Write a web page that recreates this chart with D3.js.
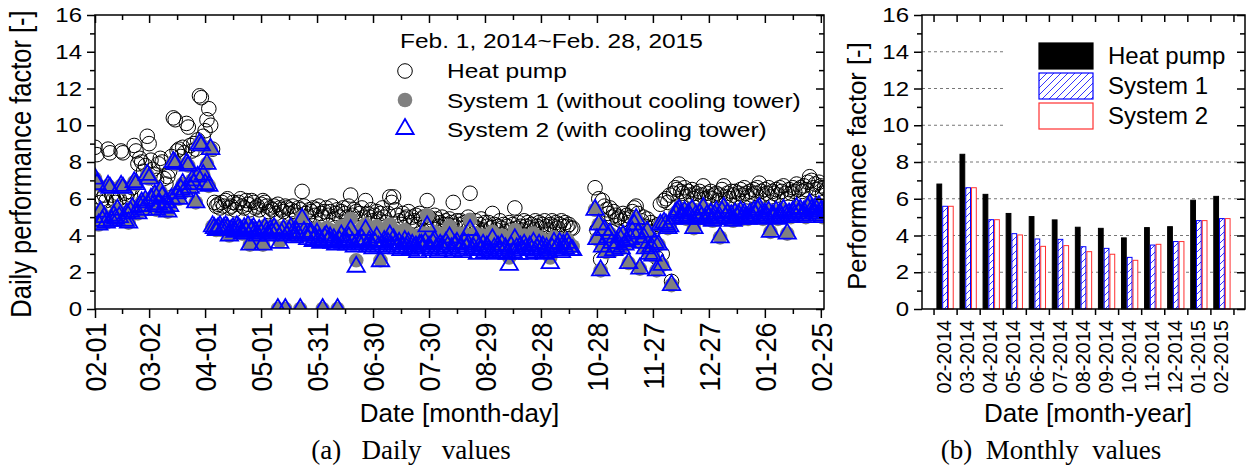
<!DOCTYPE html>
<html>
<head>
<meta charset="utf-8">
<script src="https://cdn.jsdelivr.net/npm/d3@7"></script>
<style>
  body { margin: 0; background: #fff; }
  svg { display: block; font-family: 'Liberation Sans', Arial, sans-serif; }
  .axis path { display: none; }
  .axis line { stroke: #000; stroke-width: 1.5; }
  .axis text { fill: #000; font-family: 'Liberation Sans', Arial, sans-serif; }
</style>
</head>
<body>
<svg width="1250" height="466"></svg>
<script>
// daily performance factors, one row per week (Sat..Fri), first day Feb 1 2014
var heatPump = [
  8.8, 8.4, 6.1, 5.8, 6.0, 6.2, 5.9,
  8.7, 8.5, 6.2, 6.0, 5.8, 6.3, 6.0,
  8.6, 8.5, 6.3, 6.1, 6.4, 6.2, 6.6,
  8.9, 8.6, 7.9, 8.2, 8.0, 7.5, 7.8,
  9.4, 9.0, 8.1, 7.6, 7.3, 7.0, 7.9,
  8.2, 8.0, 7.1, 6.8, 7.2, 7.5, 8.3,
  10.4, 10.3, 8.6, 8.7, 8.3, 8.8, 8.5,
  10.1, 9.9, 8.9, 8.6, 9.0, 8.7, 9.2,
  11.6, 11.5, 9.4, 9.7, 10.3, 10.9, 10.0,
  8.7, 5.8, 5.6, 5.7, 5.5, 5.8, 5.6,
  5.9, 6.0, 5.5, 5.6, 5.8, 5.4, 5.7,
  5.8, 6.0, 5.6, 5.5, 5.9, 5.7, 5.4,
  5.9, 5.8, 5.5, 5.6, 5.4, 5.7, 5.9,
  5.8, 5.6, 5.3, 5.5, 5.4, 5.6, 5.2,
  5.7, 5.5, 5.4, 5.3, 5.6, 5.5, 5.2,
  5.4, 5.6, 5.3, 5.1, 5.5, 5.4, 6.4,
  5.6, 5.2, 5.0, 5.4, 5.3, 5.5, 5.1,
  5.4, 5.6, 5.2, 5.0, 5.3, 5.5, 5.1,
  5.3, 5.6, 4.9, 5.2, 5.4, 5.0, 5.3,
  5.5, 5.2, 5.0, 5.6, 6.2, 5.1, 5.4,
  5.3, 4.9, 5.2, 5.5, 5.0, 5.9, 5.2,
  5.0, 5.4, 4.8, 5.1, 5.3, 4.9, 5.2,
  5.5, 5.0, 4.7, 5.2, 6.1, 5.8, 6.1,
  5.4, 5.1, 4.8, 4.6, 5.2, 4.9, 5.0,
  5.3, 4.7, 5.0, 4.8, 5.1, 4.6, 5.2,
  4.9, 5.0, 4.7, 5.9, 5.0, 4.6, 4.8,
  5.1, 4.9, 4.5, 4.7, 5.0, 4.6, 4.8,
  4.6, 4.9, 4.7, 5.8, 4.5, 4.8, 4.6,
  4.8, 4.4, 4.7, 4.5, 5.0, 6.3, 4.6,
  4.5, 4.8, 4.4, 4.6, 4.9, 4.3, 4.7,
  4.5, 4.7, 4.4, 5.2, 4.6, 4.3, 4.5,
  4.8, 4.4, 4.6, 4.2, 4.5, 4.7, 4.3,
  4.6, 5.5, 4.4, 4.7, 4.5, 4.3, 4.8,
  4.5, 4.7, 4.4, 4.6, 4.3, 4.8, 4.5,
  4.7, 4.4, 4.6, 4.8, 4.5, 4.3, 4.6,
  4.8, 4.5, 4.7, 4.4, 4.6, 4.8, 4.5,
  4.7, 4.5, 4.6, 4.4, 4.4, null, null,
  null, null, null, null, null, null, null,
  null, null, 6.6, 4.3, 6.0, 2.7, 5.9,
  5.6, 5.4, 5.2, 5.5, 5.0, 5.3, 5.1,
  4.9, 5.0, 4.8, 5.2, 4.9, 5.1, 4.7,
  5.0, 5.3, 5.5, 5.6, 5.2, 4.6, 4.8,
  5.0, 4.5, 4.9, 4.4, 4.7, 4.2, 4.5,
  2.8, 4.6, 5.7, 3.0, 5.9, 6.0, 5.8,
  6.2, 1.5, 6.3, 6.6, 6.5, 6.8, 6.4,
  6.3, 6.6, 6.1, 6.4, 6.2, 6.5, 6.0,
  6.3, 6.1, 6.4, 6.2, 6.7, 6.0, 6.3,
  6.1, 6.4, 6.0, 6.2, 6.3, 5.9, 6.2,
  6.5, 6.7, 6.1, 6.3, 6.0, 6.4, 6.2,
  6.4, 6.1, 6.3, 6.5, 6.2, 6.6, 6.3,
  6.1, 6.4, 6.2, 6.5, 6.3, 6.6, 6.85,
  6.4, 6.2, 6.5, 6.3, 6.6, 6.1, 6.4,
  6.3, 6.5, 6.2, 6.6, 6.4, 6.7, 6.3,
  6.0, 6.5, 6.3, 6.6, 6.4, 6.8, 6.5,
  6.6, 6.4, 6.7, 6.5, 6.9, 7.2, 7.0,
  6.6, 6.8, 6.5, 6.9, 6.7, 6.3, 6.6,
  6.5
];
var system1 = [
  7.1, 6.8, 4.6, 5.3, 4.8, 5.0, 4.7,
  6.7, 6.6, 4.8, 5.1, 4.9, 5.4, 5.0,
  6.7, 6.6, 4.8, 5.2, 4.7, 5.3, 5.5,
  6.9, 6.8, 5.2, 5.6, 5.8, 5.4, 5.9,
  7.3, 7.1, 6.0, 5.6, 6.2, 5.4, 5.7,
  6.4, 6.1, 5.5, 5.8, 5.3, 5.6, 6.0,
  8.0, 7.9, 6.3, 6.0, 6.5, 6.8, 6.4,
  7.9, 7.8, 6.6, 7.0, 6.8, 5.8, 7.2,
  9.0, 8.9, 7.3, 6.8, 7.9, 6.7, 8.7,
  4.5, 4.4, 4.3, 4.4, 4.5, 4.3, 4.4,
  4.5, 4.4, 4.0, 4.3, 4.4, 4.2, 4.5,
  4.4, 4.3, 4.1, 4.4, 4.2, 4.5, 3.5,
  4.3, 4.4, 4.2, 4.0, 4.3, 4.1, 3.5,
  4.5, 4.3, 4.1, 4.4, 4.2, 4.5, 4.3,
  0, 3.7, 4.2, 4.4, 0, 4.1, 4.3,
  4.5, 4.2, 4.0, 4.3, 4.1, 0, 5.0,
  4.4, 4.2, 4.0, 4.3, 4.3, 3.9, 4.1,
  4.4, 4.1, 3.9, 0, 4.3, 4.4, 4.1,
  4.3, 4.0, 4.2, 3.9, 0, 4.1, 4.5,
  4.1, 4.3, 4.0, 4.4, 4.9, 4.0, 3.9,
  2.65, 4.2, 4.0, 4.4, 4.1, 4.6, 3.9,
  4.2, 4.0, 3.8, 4.1, 4.5, 3.9, 2.65,
  4.0, 4.2, 3.8, 4.1, 4.6, 3.9, 4.3,
  4.0, 3.8, 4.1, 3.7, 3.9, 4.3, 3.8,
  4.1, 3.7, 4.0, 3.8, 3.9, 3.6, 4.0,
  4.0, 3.8, 4.1, 5.1, 3.9, 3.7, 4.1,
  4.2, 3.8, 3.6, 4.0, 3.9, 3.7, 4.1,
  3.9, 4.5, 3.8, 3.6, 4.0, 4.1, 3.7,
  3.9, 3.6, 4.1, 3.8, 4.0, 4.85, 3.7,
  3.8, 4.1, 3.5, 3.9, 3.7, 4.0, 3.6,
  3.9, 3.7, 3.6, 4.2, 3.8, 3.5, 3.9,
  3.7, 4.0, 3.6, 3.8, 3.5, 2.8, 3.9,
  3.6, 4.3, 3.8, 3.5, 3.9, 3.7, 4.0,
  3.8, 3.5, 3.9, 3.7, 4.1, 3.6, 3.8,
  3.9, 3.6, 3.8, 3.4, 3.7, 3.5, 2.8,
  3.6, 3.9, 3.5, 3.7, 3.8, 3.4, 3.7,
  3.5, 3.8, 3.6, 3.4, 3.4, null, null,
  null, null, null, null, null, null, null,
  null, null, 5.4, 3.8, 4.6, 2.1, 3.4,
  4.3, 3.1, 3.9, 4.1, 3.6, 3.2, 3.4,
  3.6, 3.9, 3.3, 4.0, 3.5, 3.7, 2.5,
  3.8, 4.2, 4.6, 4.9, 4.1, 2.2, 3.6,
  3.9, 3.3, 4.2, 3.0, 3.4, 2.9, 3.6,
  2.1, 3.5, 4.6, 2.4, 4.7, 4.6, 4.4,
  4.5, 1.3, 4.9, 5.2, 5.3, 5.4, 5.1,
  5.0, 5.3, 4.9, 5.2, 5.0, 5.4, 4.4,
  5.1, 4.9, 5.2, 5.0, 5.5, 4.9, 5.1,
  5.0, 5.2, 4.8, 5.1, 5.3, 4.9, 3.9,
  5.3, 5.5, 5.0, 5.2, 4.9, 5.1, 4.8,
  5.2, 5.0, 5.1, 5.3, 4.9, 5.2, 5.0,
  4.9, 5.2, 5.0, 5.3, 5.1, 5.4, 5.5,
  5.1, 4.9, 5.2, 5.0, 5.3, 4.2, 5.1,
  5.0, 5.3, 4.9, 5.2, 5.0, 5.4, 5.1,
  4.1, 5.2, 5.0, 5.3, 5.1, 5.5, 5.2,
  5.4, 5.1, 5.3, 5.0, 5.5, 5.7, 5.4,
  5.2, 5.5, 5.1, 5.6, 5.3, 5.0, 5.4,
  5.3
];
var system2 = [
  7.1, 6.8, 4.6, 5.3, 4.8, 5.0, 4.7,
  6.7, 6.6, 4.8, 5.1, 4.9, 5.4, 5.0,
  6.7, 6.6, 4.8, 5.2, 4.7, 5.3, 5.5,
  6.9, 6.8, 5.2, 5.6, 5.8, 5.4, 5.9,
  7.3, 7.1, 6.0, 5.6, 6.2, 5.4, 5.7,
  6.4, 6.1, 5.5, 5.8, 5.3, 5.6, 6.0,
  8.0, 7.9, 6.3, 6.0, 6.5, 6.8, 6.4,
  7.9, 7.8, 6.6, 7.0, 6.8, 5.8, 7.2,
  9.0, 8.9, 7.3, 6.8, 7.9, 6.7, 8.7,
  4.5, 4.4, 4.3, 4.4, 4.5, 4.3, 4.4,
  4.5, 4.4, 4.0, 4.3, 4.4, 4.2, 4.5,
  4.4, 4.3, 4.1, 4.4, 4.2, 4.5, 3.5,
  4.3, 4.4, 4.2, 4.0, 4.3, 4.1, 3.5,
  4.4, 4.2, 4.0, 4.3, 4.1, 4.4, 4.2,
  0, 3.6, 4.1, 4.3, 0, 4.0, 4.2,
  4.4, 4.1, 3.9, 4.2, 4.0, 0, 4.9,
  4.2, 4.0, 3.8, 4.1, 4.1, 3.7, 3.9,
  4.1, 3.8, 3.6, 0, 3.9, 4.0, 3.7,
  3.9, 3.6, 3.8, 3.5, 0, 3.7, 4.0,
  3.6, 3.8, 3.5, 3.9, 4.3, 3.6, 3.4,
  2.3, 3.7, 3.5, 3.8, 3.6, 4.3, 3.4,
  3.7, 3.5, 3.3, 3.6, 3.9, 3.4, 2.6,
  3.5, 3.7, 3.3, 3.6, 4.0, 3.4, 3.8,
  3.5, 3.3, 3.6, 3.2, 3.4, 3.7, 3.3,
  3.6, 3.2, 3.5, 3.3, 3.4, 3.1, 3.5,
  3.5, 3.3, 3.6, 4.5, 3.4, 3.2, 3.6,
  3.7, 3.3, 3.1, 3.5, 3.4, 3.2, 3.6,
  3.4, 3.9, 3.3, 3.1, 3.5, 3.6, 3.2,
  3.4, 3.1, 3.6, 3.3, 3.5, 4.3, 3.2,
  3.3, 3.6, 3.0, 3.4, 3.2, 3.5, 3.1,
  3.4, 3.2, 3.1, 3.8, 3.3, 3.0, 3.4,
  3.2, 3.5, 3.1, 3.3, 3.0, 2.4, 3.4,
  3.1, 3.8, 3.3, 3.0, 3.4, 3.2, 3.5,
  3.3, 3.0, 3.4, 3.2, 3.6, 3.1, 3.3,
  3.5, 3.2, 3.4, 3.0, 3.3, 3.1, 2.5,
  3.3, 3.6, 3.2, 3.4, 3.6, 3.1, 3.5,
  3.3, 3.6, 3.4, 3.2, 3.2, null, null,
  null, null, null, null, null, null, null,
  null, null, 5.4, 3.8, 4.6, 2.1, 3.4,
  4.3, 3.1, 3.9, 4.1, 3.6, 3.2, 3.4,
  3.6, 3.9, 3.3, 4.0, 3.5, 3.7, 2.5,
  3.8, 4.2, 4.6, 4.9, 4.1, 2.2, 3.6,
  3.9, 3.3, 4.2, 3.0, 3.4, 2.9, 3.6,
  2.1, 3.5, 4.6, 2.4, 4.7, 4.6, 4.4,
  4.5, 1.3, 4.9, 5.2, 5.3, 5.4, 5.1,
  5.0, 5.3, 4.9, 5.2, 5.0, 5.4, 4.4,
  5.1, 4.9, 5.2, 5.0, 5.5, 4.9, 5.1,
  5.0, 5.2, 4.8, 5.1, 5.3, 4.9, 3.9,
  5.3, 5.5, 5.0, 5.2, 4.9, 5.1, 4.8,
  5.2, 5.0, 5.1, 5.3, 4.9, 5.2, 5.0,
  4.9, 5.2, 5.0, 5.3, 5.1, 5.4, 5.5,
  5.1, 4.9, 5.2, 5.0, 5.3, 4.2, 5.1,
  5.0, 5.3, 4.9, 5.2, 5.0, 5.4, 5.1,
  4.1, 5.2, 5.0, 5.3, 5.1, 5.5, 5.2,
  5.4, 5.1, 5.3, 5.0, 5.5, 5.7, 5.4,
  5.2, 5.5, 5.1, 5.6, 5.3, 5.0, 5.4,
  5.3
];
var dayTicks = ['2014-02-01', '2014-03-02', '2014-04-01', '2014-05-01', '2014-05-31',
  '2014-06-30', '2014-07-30', '2014-08-29', '2014-09-28', '2014-10-28',
  '2014-11-27', '2014-12-27', '2015-01-26', '2015-02-25'];

// monthly values
var months = ['02-2014', '03-2014', '04-2014', '05-2014', '06-2014', '07-2014', '08-2014',
  '09-2014', '10-2014', '11-2014', '12-2014', '01-2015', '02-2015'];
var hpMonthly = [6.8, 8.42, 6.24, 5.2, 5.03, 4.85, 4.45, 4.39, 3.87, 4.43, 4.48, 5.92, 6.13];
var s1Monthly = [5.59, 6.6, 4.86, 4.1, 3.81, 3.79, 3.39, 3.3, 2.81, 3.48, 3.67, 4.81, 4.92];
var s2Monthly = [5.59, 6.6, 4.86, 4.03, 3.41, 3.45, 3.12, 2.98, 2.65, 3.52, 3.67, 4.81, 4.92];
var yTicks = [0, 2, 4, 6, 8, 10, 12, 14, 16];

var svg = d3.select('svg');
var dayMs = 864e5;
var start = Date.UTC(2014, 1, 1);
function dayDate(i) { return new Date(start + i * dayMs); }
var parseDay = d3.utcParse('%Y-%m-%d');
var tri = 'M0,-10L8.7,5L-8.7,5Z';

// ---------------- (a) daily ----------------
var A = {l: 95, r: 824, t: 15, b: 309};
var xA = d3.scaleUtc().domain([dayDate(0), dayDate(390.7)]).range([A.l, A.r]);
var yA = d3.scaleLinear().domain([0, 16]).range([A.b, A.t]);
var majorA = dayTicks.map(parseDay);
var minorA = d3.pairs(majorA).map(p => new Date((+p[0] + +p[1]) / 2));
var minorY = [1, 3, 5, 7, 9, 11, 13, 15];

svg.append('defs').append('clipPath').attr('id', 'clipA')
  .append('rect').attr('x', A.l).attr('y', A.t).attr('width', A.r - A.l).attr('height', A.b - A.t);

function pts(arr) {
  return arr.map((v, i) => ({date: dayDate(i), v: v})).filter(p => p.v !== null);
}
var plotA = svg.append('g').attr('clip-path', 'url(#clipA)');
plotA.selectAll('.hp').data(pts(heatPump)).enter().append('circle')
  .attr('cx', d => xA(d.date)).attr('cy', d => yA(d.v)).attr('r', 7.3)
  .attr('fill', 'none').attr('stroke', '#000').attr('stroke-width', 1);
plotA.selectAll('.s1').data(pts(system1)).enter().append('circle')
  .attr('cx', d => xA(d.date)).attr('cy', d => yA(d.v)).attr('r', 7.3)
  .attr('fill', '#808080');
plotA.selectAll('.s2').data(pts(system2)).enter().append('path')
  .attr('d', tri)
  .attr('transform', d => 'translate(' + [xA(d.date), yA(d.v)] + ')')
  .attr('fill', 'none').attr('stroke', '#0000ff').attr('stroke-width', 1.8);

// axes of (a)
var axBot = svg.append('g').attr('class', 'axis').attr('transform', 'translate(0,' + A.b + ')');
axBot.call(d3.axisBottom(xA).tickValues(majorA).tickSize(9).tickFormat(d3.utcFormat('%m-%d')));
axBot.selectAll('text')
  .attr('y', 0).attr('x', 0).attr('dy', '0.36em')
  .attr('text-anchor', 'end')
  .attr('font-size', 30)
  .attr('transform', 'rotate(-90) scale(0.9,1) translate(-15,0)');
svg.append('g').attr('class', 'axis').attr('transform', 'translate(0,' + A.b + ')')
  .call(d3.axisBottom(xA).tickValues(minorA).tickSize(5).tickFormat(''));
svg.append('g').attr('class', 'axis').attr('transform', 'translate(0,' + A.t + ')')
  .call(d3.axisBottom(xA).tickValues(majorA).tickSize(8).tickFormat(''));
svg.append('g').attr('class', 'axis').attr('transform', 'translate(0,' + A.t + ')')
  .call(d3.axisBottom(xA).tickValues(minorA).tickSize(5).tickFormat(''));

var axLeft = svg.append('g').attr('class', 'axis').attr('transform', 'translate(' + A.l + ',0)');
axLeft.call(d3.axisLeft(yA).tickValues(yTicks).tickSize(8).tickPadding(5));
axLeft.selectAll('text').attr('font-size', 24).attr('transform', 'scale(1,0.87)');
svg.append('g').attr('class', 'axis').attr('transform', 'translate(' + A.l + ',0)')
  .call(d3.axisLeft(yA).tickValues(minorY).tickSize(5).tickFormat(''));
svg.append('g').attr('class', 'axis').attr('transform', 'translate(' + A.r + ',0)')
  .call(d3.axisLeft(yA).tickValues(yTicks).tickSize(8).tickFormat(''));
svg.append('g').attr('class', 'axis').attr('transform', 'translate(' + A.r + ',0)')
  .call(d3.axisLeft(yA).tickValues(minorY).tickSize(5).tickFormat(''));

svg.append('rect').attr('x', A.l).attr('y', A.t).attr('width', A.r - A.l).attr('height', A.b - A.t)
  .attr('fill', 'none').attr('stroke', '#000').attr('stroke-width', 1.5);

svg.append('text').text('Daily performance factor [-]')
  .attr('font-size', 30).attr('text-anchor', 'middle')
  .attr('transform', 'translate(31,' + 164 + ') rotate(-90) scale(0.85,1)');
svg.append('text').text('Date [month-day]')
  .attr('font-size', 26).attr('text-anchor', 'middle')
  .attr('x', (A.l + A.r) / 2).attr('y', 422);

// legend of (a)
var legA = svg.append('g');
legA.append('text').text('Feb. 1, 2014~Feb. 28, 2015')
  .attr('font-size', 24.5).attr('transform', 'translate(400,48) scale(1,0.85)');
var legRows = ['Heat pump', 'System 1 (without cooling tower)', 'System 2 (with cooling tower)'];
var legY = [78, 108, 137];
legRows.forEach(function(t, i) {
  legA.append('text').text(t)
    .attr('font-size', 24.5).attr('transform', 'translate(447,' + legY[i] + ') scale(1,0.85)');
});
legA.append('circle').attr('cx', 405).attr('cy', 71).attr('r', 7.3)
  .attr('fill', 'none').attr('stroke', '#000');
legA.append('circle').attr('cx', 405).attr('cy', 100).attr('r', 7.3).attr('fill', '#808080');
legA.append('path').attr('d', tri).attr('transform', 'translate(405,129)')
  .attr('fill', 'none').attr('stroke', '#0000ff').attr('stroke-width', 1.8);

// ---------------- (b) monthly ----------------
var B = {l: 922, r: 1245, t: 15, b: 309};
var xB = d3.scaleLinear().domain([0, 14]).range([B.l, B.r]);
var yB = d3.scaleLinear().domain([0, 16]).range([B.b, B.t]);
var barW = 0.25;
var bounds = d3.range(14).map(i => i + 0.5);

var pat = svg.select('defs').append('pattern').attr('id', 'hatch')
  .attr('patternUnits', 'userSpaceOnUse').attr('width', 7).attr('height', 7);
pat.append('rect').attr('width', 7).attr('height', 7).attr('fill', '#fff');
pat.append('path').attr('d', 'M0,7L7,0M-1,1L1,-1M6,8L8,6')
  .attr('stroke', '#0000ff').attr('stroke-width', 0.8);

// grid
svg.append('g').selectAll('line').data([2, 4, 6, 8, 10, 12, 14]).enter().append('line')
  .attr('x1', B.l).attr('x2', B.r).attr('y1', d => yB(d)).attr('y2', d => yB(d))
  .attr('stroke', '#777').attr('stroke-width', 1).attr('stroke-dasharray', '3,3');

var series = [
  {vals: hpMonthly, fill: '#000', stroke: '#000', off: -1},
  {vals: s1Monthly, fill: 'url(#hatch)', stroke: '#0000ff', off: 0},
  {vals: s2Monthly, fill: '#fff', stroke: '#ff3030', off: 1}
];
series.forEach(function(s) {
  svg.append('g').selectAll('rect').data(s.vals).enter().append('rect')
    .attr('x', (d, i) => xB(i + 1 + (s.off - 0.5) * barW) + 0.5)
    .attr('width', xB(barW) - xB(0) - 1)
    .attr('y', d => yB(d))
    .attr('height', d => yB(0) - yB(d))
    .attr('fill', s.fill).attr('stroke', s.stroke).attr('stroke-width', 1);
});

// legend of (b), white box hides the grid
var legB = svg.append('g');
legB.append('rect').attr('x', 1005).attr('y', 28).attr('width', 239).attr('height', 112).attr('fill', '#fff');
var legBNames = ['Heat pump', 'System 1', 'System 2'];
var legBY = [43, 73, 103];
legBNames.forEach(function(t, i) {
  legB.append('rect').attr('x', 1039).attr('y', legBY[i]).attr('width', 54).attr('height', 26)
    .attr('fill', series[i].fill).attr('stroke', series[i].stroke).attr('stroke-width', 1.2);
  legB.append('text').text(t).attr('x', 1108).attr('y', legBY[i] + 20.5).attr('font-size', 24);
});

svg.append('g').attr('class', 'axis').attr('transform', 'translate(0,' + B.b + ')')
  .call(d3.axisBottom(xB).tickValues(bounds).tickSize(6).tickFormat(''));
svg.append('g').attr('class', 'axis').attr('transform', 'translate(0,' + B.t + ')')
  .call(d3.axisBottom(xB).tickValues(bounds).tickSize(7).tickFormat(''));
svg.append('g').selectAll('text').data(months).enter().append('text')
  .text(d => d)
  .attr('font-size', 20).attr('text-anchor', 'end').attr('dy', '0.36em')
  .attr('transform', (d, i) => 'translate(' + [xB(i + 1) - 1, B.b + 11] + ') rotate(-90)');

var axLeftB = svg.append('g').attr('class', 'axis').attr('transform', 'translate(' + B.l + ',0)');
axLeftB.call(d3.axisLeft(yB).tickValues(yTicks).tickSize(8).tickPadding(5));
axLeftB.selectAll('text').attr('font-size', 24).attr('transform', 'scale(1,0.87)');
svg.append('g').attr('class', 'axis').attr('transform', 'translate(' + B.l + ',0)')
  .call(d3.axisLeft(yB).tickValues(minorY).tickSize(5).tickFormat(''));
svg.append('g').attr('class', 'axis').attr('transform', 'translate(' + B.r + ',0)')
  .call(d3.axisLeft(yB).tickValues(yTicks).tickSize(8).tickFormat(''));
svg.append('g').attr('class', 'axis').attr('transform', 'translate(' + B.r + ',0)')
  .call(d3.axisLeft(yB).tickValues(minorY).tickSize(5).tickFormat(''));
svg.append('rect').attr('x', B.l).attr('y', B.t).attr('width', B.r - B.l).attr('height', B.b - B.t)
  .attr('fill', 'none').attr('stroke', '#000').attr('stroke-width', 1.5);

svg.append('text').text('Performance factor [-]')
  .attr('font-size', 25.6).attr('text-anchor', 'middle')
  .attr('transform', 'translate(866,166) rotate(-90)');
svg.append('text').text('Date [month-year]')
  .attr('font-size', 26).attr('text-anchor', 'middle')
  .attr('x', 1088).attr('y', 422);

// captions
svg.append('text').text('(a)   Daily   values').style('white-space', 'pre')
  .attr('font-family', "'Liberation Serif', 'Times New Roman', serif")
  .attr('font-size', 27).attr('text-anchor', 'middle').attr('x', 411).attr('y', 459);
svg.append('text').text('(b)  Monthly  values').style('white-space', 'pre')
  .attr('font-family', "'Liberation Serif', 'Times New Roman', serif")
  .attr('font-size', 27).attr('text-anchor', 'middle').attr('x', 1051).attr('y', 459);
</script>
</body>
</html>
